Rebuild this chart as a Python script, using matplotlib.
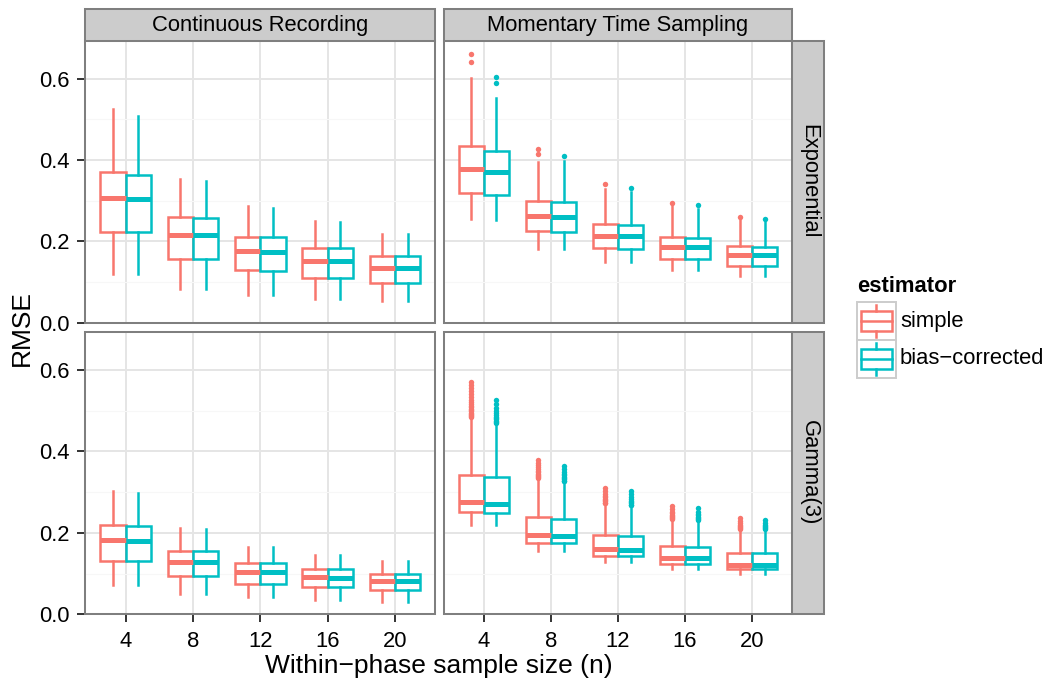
import matplotlib
matplotlib.use("Agg")
import matplotlib.pyplot as plt
from matplotlib.patches import Rectangle
import numpy as np

plt.rcParams['font.family'] = ['Liberation Sans', 'DejaVu Sans']

sample_sizes = [4, 8, 12, 16, 20]
estimators = ["simple", "bias\u2212corrected"]
methods = ["Continuous Recording", "Momentary Time Sampling"]
distributions = ["Exponential", "Gamma(3)"]
colors = ["#F8766D", "#00BFC4"]

# five-number summaries per sample size: [lower whisker, q1, median, q3, upper whisker]
cr_exp_simple = [[0.119, 0.224, 0.307, 0.370, 0.526],
                 [0.084, 0.157, 0.216, 0.260, 0.354],
                 [0.069, 0.129, 0.176, 0.211, 0.286],
                 [0.059, 0.110, 0.152, 0.184, 0.249],
                 [0.053, 0.098, 0.135, 0.163, 0.218]]
cr_exp_bc = [[0.119, 0.222, 0.304, 0.364, 0.509],
             [0.084, 0.157, 0.215, 0.257, 0.348],
             [0.069, 0.128, 0.175, 0.210, 0.283],
             [0.059, 0.110, 0.151, 0.183, 0.248],
             [0.053, 0.098, 0.135, 0.163, 0.217]]
mts_exp_simple = [[0.255, 0.319, 0.377, 0.434, 0.601],
                  [0.180, 0.225, 0.263, 0.300, 0.396],
                  [0.149, 0.183, 0.214, 0.243, 0.328],
                  [0.129, 0.157, 0.185, 0.211, 0.286],
                  [0.116, 0.140, 0.167, 0.189, 0.253]]
mts_exp_bc = [[0.252, 0.315, 0.371, 0.421, 0.552],
              [0.180, 0.224, 0.260, 0.296, 0.398],
              [0.149, 0.182, 0.212, 0.241, 0.321],
              [0.129, 0.157, 0.185, 0.208, 0.279],
              [0.116, 0.140, 0.166, 0.187, 0.248]]
cr_gam_simple = [[0.071, 0.132, 0.183, 0.219, 0.302],
                 [0.050, 0.093, 0.129, 0.156, 0.211],
                 [0.042, 0.075, 0.105, 0.126, 0.166],
                 [0.036, 0.066, 0.091, 0.111, 0.146],
                 [0.031, 0.059, 0.082, 0.098, 0.132]]
cr_gam_bc = [[0.071, 0.132, 0.181, 0.217, 0.298],
             [0.050, 0.093, 0.129, 0.155, 0.210],
             [0.042, 0.075, 0.104, 0.126, 0.165],
             [0.036, 0.066, 0.090, 0.110, 0.145],
             [0.031, 0.059, 0.081, 0.098, 0.131]]
mts_gam_simple = [[0.220, 0.251, 0.275, 0.343, 0.480],
                  [0.156, 0.175, 0.195, 0.238, 0.331],
                  [0.128, 0.143, 0.159, 0.194, 0.269],
                  [0.111, 0.123, 0.138, 0.167, 0.232],
                  [0.099, 0.111, 0.121, 0.150, 0.207]]
mts_gam_bc = [[0.219, 0.248, 0.271, 0.336, 0.466],
              [0.156, 0.175, 0.193, 0.235, 0.323],
              [0.128, 0.143, 0.158, 0.192, 0.264],
              [0.111, 0.123, 0.137, 0.166, 0.229],
              [0.099, 0.111, 0.121, 0.150, 0.206]]

# outliers
no_out = [[], [], [], [], []]
mts_exp_simple_out = [[0.641, 0.661], [0.415, 0.426], [0.340], [0.295], [0.259]]
mts_exp_bc_out = [[0.590, 0.605], [0.409], [0.331], [0.290], [0.255]]
mts_gam_simple_out = [
    [0.484, 0.487, 0.490, 0.492, 0.495, 0.498, 0.501, 0.504, 0.508, 0.512,
     0.517, 0.521, 0.527, 0.533, 0.540, 0.548, 0.556, 0.563, 0.571],
    [0.334, 0.336, 0.339, 0.342, 0.345, 0.348, 0.352, 0.356, 0.361, 0.366, 0.372, 0.379],
    [0.272, 0.274, 0.277, 0.280, 0.283, 0.287, 0.291, 0.296, 0.302, 0.310],
    [0.234, 0.236, 0.238, 0.241, 0.244, 0.248, 0.252, 0.258, 0.265],
    [0.209, 0.211, 0.213, 0.216, 0.219, 0.223, 0.229, 0.236]]
mts_gam_bc_out = [
    [0.469, 0.472, 0.475, 0.478, 0.481, 0.485, 0.489, 0.494, 0.500, 0.507, 0.516, 0.526],
    [0.326, 0.328, 0.331, 0.334, 0.337, 0.341, 0.345, 0.350, 0.356, 0.365],
    [0.267, 0.269, 0.272, 0.275, 0.279, 0.283, 0.288, 0.294, 0.302],
    [0.232, 0.234, 0.236, 0.239, 0.243, 0.247, 0.252, 0.261],
    [0.209, 0.211, 0.213, 0.216, 0.220, 0.225, 0.232]]

panels = [
    [(cr_exp_simple, no_out, cr_exp_bc, no_out),
     (mts_exp_simple, mts_exp_simple_out, mts_exp_bc, mts_exp_bc_out)],
    [(cr_gam_simple, no_out, cr_gam_bc, no_out),
     (mts_gam_simple, mts_gam_simple_out, mts_gam_bc, mts_gam_bc_out)],
]

W, H = 1050, 684
fig = plt.figure(figsize=(W / 100, H / 100), dpi=100)

def px_axes(x0, y0, x1, y1, **kw):
    return fig.add_axes([x0 / W, 1 - y1 / H, (x1 - x0) / W, (y1 - y0) / H], **kw)

col_x = [(85.3, 435.3), (443.7, 792.3)]
row_y = [(40.7, 322.7), (331.7, 614.3)]
border = "#7F7F7F"
small = 15.8
big = 19
lw_box = 1.8

def draw_panel(ax, simple, simple_out, bc, bc_out):
    for k, (summ, outs) in enumerate([(simple, simple_out), (bc, bc_out)]):
        c = colors[k]
        stats = []
        for i, s in enumerate(summ):
            stats.append(dict(whislo=s[0], q1=s[1], med=s[2], q3=s[3],
                              whishi=s[4], fliers=outs[i]))
        pos = np.arange(1, 6) + (-0.1875 if k == 0 else 0.1875)
        ax.bxp(stats, positions=pos, widths=0.375, patch_artist=True,
               showcaps=False, manage_ticks=False,
               boxprops=dict(facecolor="white", edgecolor=c, linewidth=lw_box),
               whiskerprops=dict(color=c, linewidth=lw_box),
               medianprops=dict(color=c, linewidth=3.6, solid_capstyle="butt"),
               flierprops=dict(marker="o", markerfacecolor=c,
                               markeredgecolor="none", markersize=3.9))

for r in range(2):
    for cidx in range(2):
        x0, x1 = col_x[cidx]
        y0, y1 = row_y[r]
        ax = px_axes(x0, y0, x1, y1)
        draw_panel(ax, *panels[r][cidx])
        ax.set_xlim(0.4, 5.6)
        ax.set_ylim(0, 0.6934)
        ax.set_xticks(range(1, 6))
        ax.set_xticklabels([str(n) for n in sample_sizes])
        ax.set_yticks([0.0, 0.2, 0.4, 0.6])
        ax.set_yticklabels(["0.0", "0.2", "0.4", "0.6"])
        ax.set_yticks([0.1, 0.3, 0.5], minor=True)
        ax.set_axisbelow(True)
        ax.grid(which="major", color="#E5E5E5", linewidth=1.4)
        ax.grid(which="minor", axis="y", color="#F7F7F7", linewidth=0.8)
        ax.tick_params(which="minor", length=0)
        ax.tick_params(axis="y", length=5.5, width=1.4, color="#333333",
                       labelsize=small, pad=5.5)
        ax.tick_params(axis="x", length=5.5, width=1.4, color="#333333",
                       labelsize=small, pad=6.5)
        if cidx == 1:
            ax.tick_params(axis="y", left=False, labelleft=False)
        if r == 0:
            ax.tick_params(axis="x", bottom=False, labelbottom=False)
        for sp in ax.spines.values():
            sp.set_color(border)
            sp.set_linewidth(1.45)

# strips
for cidx in range(2):
    x0, x1 = col_x[cidx]
    sax = px_axes(x0, 8.7, x1, 40.7)
    sax.set_facecolor("#CCCCCC")
    sax.set_xticks([]); sax.set_yticks([])
    for sp in sax.spines.values():
        sp.set_color(border); sp.set_linewidth(1.45)
    sax.text(0.5, 0.47, methods[cidx], ha="center", va="center", fontsize=small)
for r in range(2):
    y0, y1 = row_y[r]
    sax = px_axes(792.3, y0, 824.3, y1)
    sax.set_facecolor("#CCCCCC")
    sax.set_xticks([]); sax.set_yticks([])
    for sp in sax.spines.values():
        sp.set_color(border); sp.set_linewidth(1.45)
    sax.text(0.52, 0.5, distributions[r], ha="center", va="center",
             rotation=-90, fontsize=small)

# overlay for titles and legend (pixel coordinates)
ov = fig.add_axes([0, 0, 1, 1], facecolor="none")
ov.set_xlim(0, W); ov.set_ylim(H, 0); ov.axis("off")
ov.text(22, 327.5, "RMSE", rotation=90, ha="center", va="center", fontsize=big)
ov.text(438.8, 666.5, "Within\u2212phase sample size (n)", ha="center", va="center",
        fontsize=big)

ov.text(857, 286, "estimator", ha="left", va="center", fontsize=small,
        fontweight="bold")
for k, lab in enumerate(estimators):
    top = 302 + 38 * k
    c = colors[k]
    ov.add_patch(Rectangle((857, top), 38.5, 38, facecolor="white",
                           edgecolor="#CCCCCC", linewidth=1.4))
    cy = top + 19
    ov.add_patch(Rectangle((860.5, cy - 10), 31, 20, facecolor="white",
                           edgecolor=c, linewidth=lw_box))
    ov.plot([860.5, 891.5], [cy, cy], color=c, linewidth=lw_box)
    ov.plot([876, 876], [cy - 16, cy - 10], color=c, linewidth=lw_box)
    ov.plot([876, 876], [cy + 10, cy + 16], color=c, linewidth=lw_box)
    ov.text(900, cy, lab, ha="left", va="center", fontsize=small)

fig.savefig("out.png", dpi=100, facecolor="white")
